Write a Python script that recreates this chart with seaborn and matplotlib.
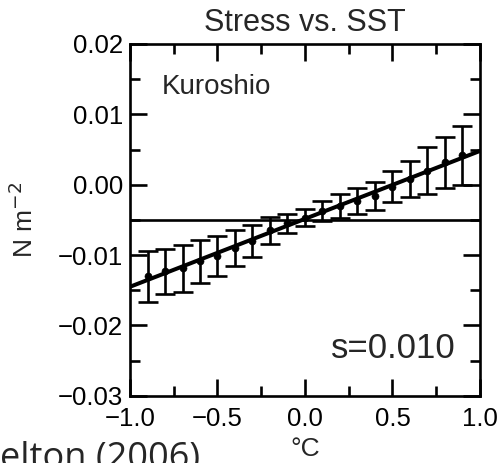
import numpy as np
import matplotlib
matplotlib.use("Agg")
import matplotlib.pyplot as plt
import seaborn as sns
from matplotlib.ticker import MultipleLocator, FuncFormatter

# binned stress vs SST anomaly (Kuroshio)
sst = [-0.9, -0.8, -0.7, -0.6, -0.5, -0.4, -0.3, -0.2, -0.1, 0.0,
       0.1, 0.2, 0.3, 0.4, 0.5, 0.6, 0.7, 0.8, 0.9]
stress = [-0.0130, -0.0123, -0.0119, -0.0109, -0.0101, -0.0090, -0.0080,
          -0.0065, -0.0055, -0.0047, -0.0037, -0.0030, -0.0023, -0.0016,
          -0.0003, 0.0008, 0.0020, 0.0032, 0.0042]
err = [0.0036, 0.0032, 0.0033, 0.0030, 0.0028, 0.0025, 0.0023, 0.0019,
       0.0014, 0.0012, 0.0014, 0.0017, 0.0018, 0.0020, 0.0022, 0.0026,
       0.0033, 0.0036, 0.0042]
fit_x = [-1.0, 1.0]
fit_y = [-0.0145, 0.0048]
mean_stress = -0.0050

sns.set_theme(style="ticks")
plt.rcParams['font.family'] = ['Liberation Sans', 'DejaVu Sans']


def fmt(nd):
    return FuncFormatter(lambda v, p: f"{v:.{nd}f}".replace('-', '\u2212'))


fig = plt.figure(figsize=(5.02, 4.63), dpi=100)
ax = fig.add_axes([0.259, 0.145, 0.697, 0.760])

ax.axhline(mean_stress, color='black', lw=1.9)
sns.lineplot(x=fit_x, y=fit_y, ax=ax, color='black', lw=2.9)
ax.errorbar(sst, stress, yerr=err, fmt='none', ecolor='black',
            elinewidth=1.9, capsize=7, capthick=1.9)
sns.scatterplot(x=sst, y=stress, ax=ax, color='black', s=26, edgecolor='black')

ax.set_xlim(-1.0, 1.0)
ax.set_ylim(-0.03, 0.02)
ax.xaxis.set_major_locator(MultipleLocator(0.5))
ax.xaxis.set_minor_locator(MultipleLocator(0.25))
ax.yaxis.set_major_locator(MultipleLocator(0.01))
ax.yaxis.set_minor_locator(MultipleLocator(0.005))
ax.xaxis.set_major_formatter(fmt(1))
ax.yaxis.set_major_formatter(fmt(2))
ax.tick_params(which='both', direction='in', top=True, right=True,
               width=1.9, labelsize=18.5, colors='black')
ax.tick_params(which='major', length=12)
ax.tick_params(which='minor', length=7)
ax.tick_params(axis='x', which='major', pad=8)
ax.tick_params(axis='y', which='major', pad=5)
for sp in ax.spines.values():
    sp.set_linewidth(1.9)
    sp.set_color('black')

ax.set_title('Stress vs. SST', fontsize=22, pad=9)
ax.set_xlabel('°C', fontsize=19, labelpad=4)
ax.set_ylabel('N m$^{-2}$', fontsize=19, labelpad=14)
ax.text(0.09, 0.858, 'Kuroshio', transform=ax.transAxes, fontsize=20,
        va='baseline')
ax.text(0.93, 0.134, 's=0.010', transform=ax.transAxes, fontsize=25,
        ha='right', va='center')

fig.text(0.0, 0.048, 'elton (2006)', fontsize=26, family=['Open Sans', 'DejaVu Sans'],
         ha='left', va='top')

fig.savefig('out.png', dpi=100, facecolor='white')
